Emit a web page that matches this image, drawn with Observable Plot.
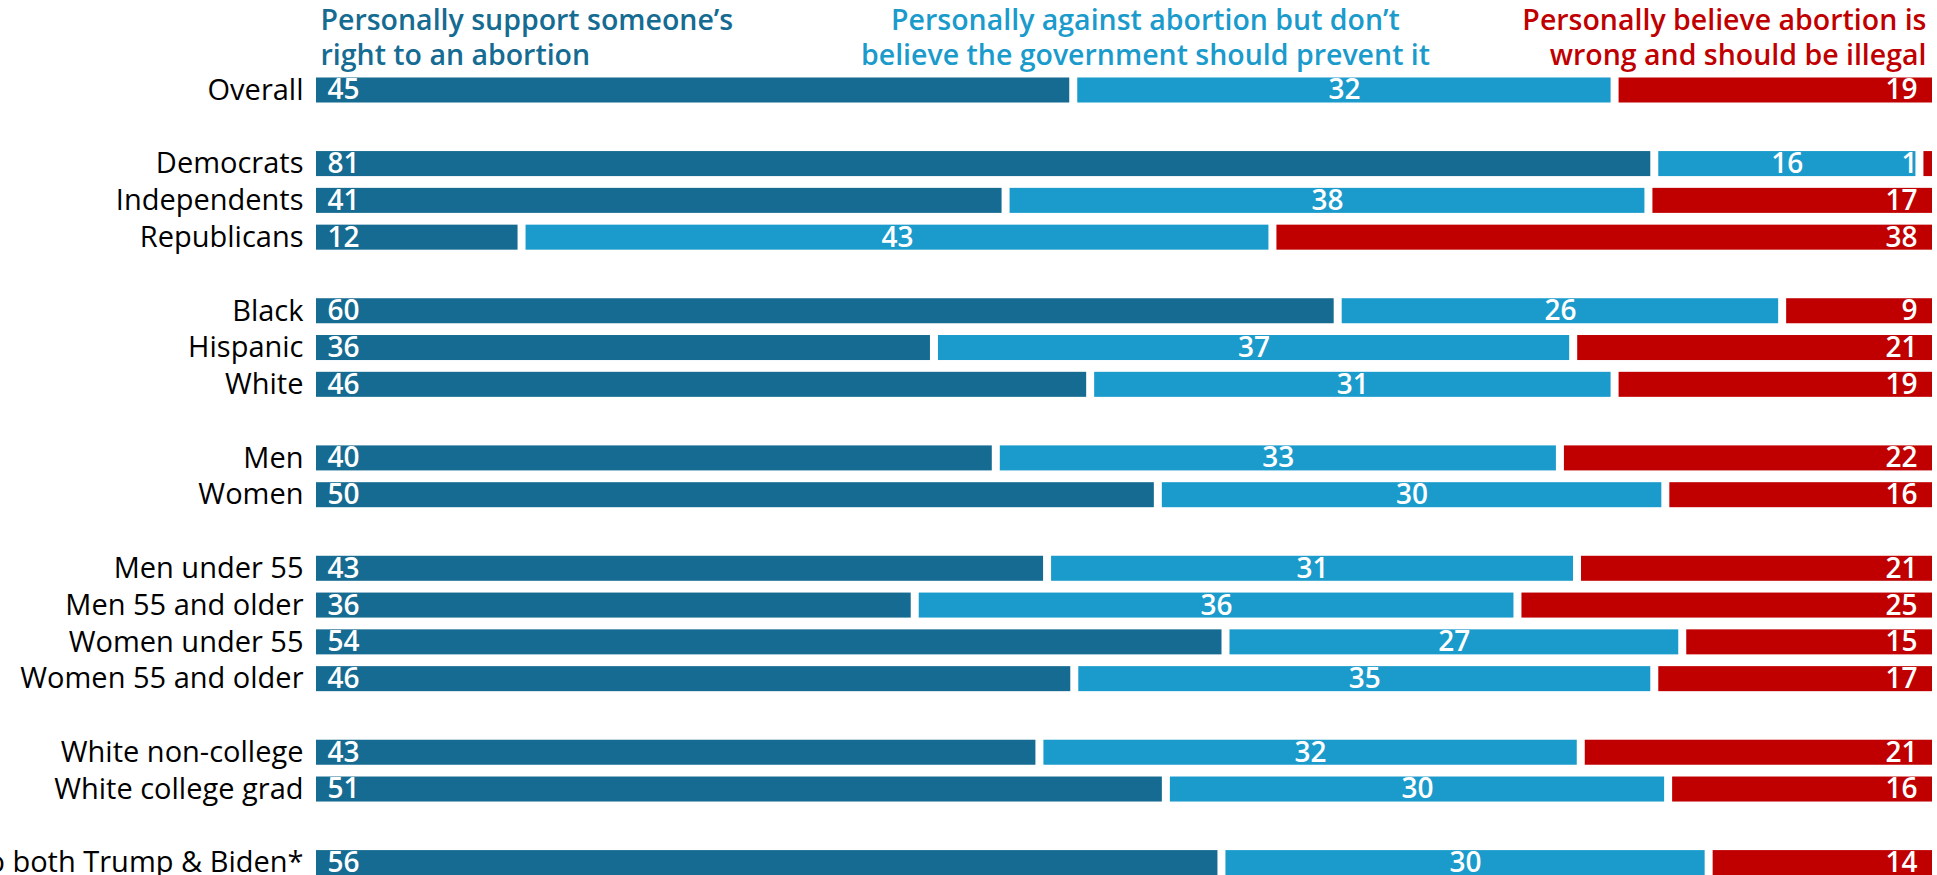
<!DOCTYPE html>
<html>
<head>
<meta charset="utf-8">
<script src="https://cdn.jsdelivr.net/npm/d3@7"></script>
<script src="https://cdn.jsdelivr.net/npm/@observablehq/plot@0.6"></script>
<style>
  html, body { margin: 0; padding: 0; background: #fff; overflow: hidden; }
  #chart svg { display: block; overflow: visible; }
</style>
</head>
<body>
<div id="chart"></div>
<script>
// ---- Data ----
const rows = [
  "Overall", "_1",
  "Democrats", "Independents", "Republicans", "_2",
  "Black", "Hispanic", "White", "_3",
  "Men", "Women", "_4",
  "Men under 55", "Men 55 and older", "Women under 55", "Women 55 and older", "_5",
  "White non-college", "White college grad", "_6",
  "Unfavorable to both Trump & Biden*"
];
const groups = [
  "Overall", "Democrats", "Independents", "Republicans",
  "Black", "Hispanic", "White", "Men", "Women",
  "Men under 55", "Men 55 and older", "Women under 55", "Women 55 and older",
  "White non-college", "White college grad", "Unfavorable to both Trump & Biden*"
];
const support   = [45, 81, 41, 12, 60, 36, 46, 40, 50, 43, 36, 54, 46, 43, 51, 56];
const against   = [32, 16, 38, 43, 26, 37, 31, 33, 30, 31, 36, 27, 35, 32, 30, 30];
const illegal   = [19,  1, 17, 38,  9, 21, 19, 22, 16, 21, 25, 15, 17, 21, 16, 14];

const categories = ["support", "against", "illegal"];
const colors = ["#156b91", "#1a9bcc", "#c00000"];
const headers = [
  "Personally support someone\u2019s\nright to an abortion",
  "Personally against abortion but don\u2019t\nbelieve the government should prevent it",
  "Personally believe abortion is\nwrong and should be illegal"
];

// ---- Build table ----
const series = [support, against, illegal];
const data = [];
groups.forEach((g, i) => {
  categories.forEach((c, k) => data.push({group: g, cat: c, value: series[k][i]}));
});

const W = 1937;
const marginTop = 71.6;
const step = 36.786;
const H = Math.round(marginTop + rows.length * step);

const stackOpts = {x: "value", y: "group", z: "cat", order: categories, offset: "normalize"};
const font = "'Open Sans', Lato, sans-serif";

const chart = Plot.plot({
  width: W,
  height: H,
  marginTop: marginTop,
  marginBottom: 0,
  marginLeft: 312,
  marginRight: 1,
  style: {fontFamily: font, color: "#000", background: "#fff"},
  x: {domain: [0, 1], axis: null},
  y: {domain: rows, paddingInner: 0.32, paddingOuter: 0.16, round: false, label: null},
  color: {domain: categories, range: colors},
  marks: [
    Plot.barX(data, Plot.stackX({...stackOpts, fill: "cat", insetLeft: 4, insetRight: 4})),
    Plot.axisY({
      tickSize: 0, tickPadding: 9, fontSize: 29, fontWeight: 500, label: null,
      tickFormat: d => d.startsWith("_") ? "" : d
    }),
    // support labels (left inside bar)
    Plot.text(data, Plot.stackX1({
      ...stackOpts,
      text: d => d.cat === "support" ? String(d.value) : "",
      textAnchor: "start", dx: 15, fill: "#fff", fontSize: 28, fontWeight: 600
    })),
    // against labels (centred)
    Plot.text(data, Plot.stackX({
      ...stackOpts,
      text: d => d.cat === "against" ? String(d.value) : "",
      textAnchor: "middle", fill: "#fff", fontSize: 28, fontWeight: 600
    })),
    // illegal labels (right edge)
    Plot.text(data.filter(d => d.cat === "illegal"), {
      y: "group", text: d => String(d.value), frameAnchor: "right",
      textAnchor: "end", dx: -19, fill: "#fff", fontSize: 28, fontWeight: 600
    }),
    // headers
    Plot.text([headers[0]], {text: d => d, frameAnchor: "top-left", textAnchor: "start",
      dx: 8, dy: -67, lineHeight: 1.22, fill: colors[0], fontSize: 28.5, fontWeight: 600}),
    Plot.text([headers[1]], {text: d => d, frameAnchor: "top", textAnchor: "middle",
      dx: 21, dy: -67, lineHeight: 1.22, fill: colors[1], fontSize: 28.5, fontWeight: 600}),
    Plot.text([headers[2]], {text: d => d, frameAnchor: "top-right", textAnchor: "end",
      dx: -10, dy: -67, lineHeight: 1.22, fill: colors[2], fontSize: 28.5, fontWeight: 600})
  ]
});
document.getElementById("chart").append(chart);
</script>
</body>
</html>
